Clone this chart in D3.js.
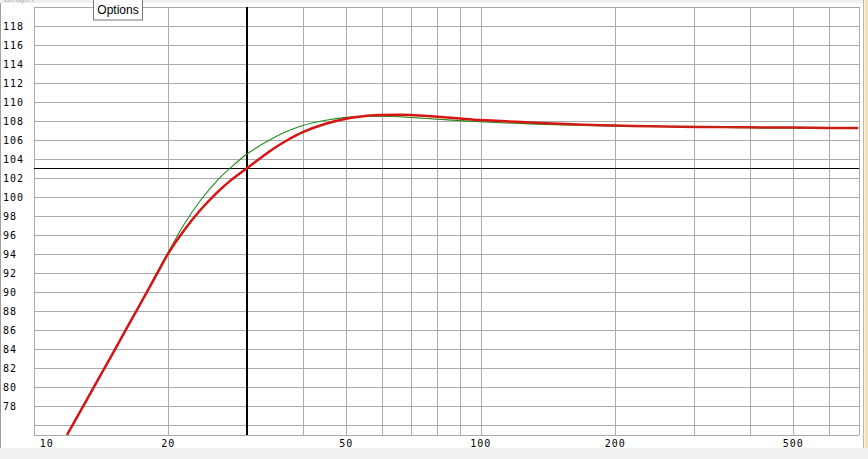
<!DOCTYPE html>
<html><head><meta charset="utf-8">
<script src="https://cdn.jsdelivr.net/npm/d3@7"></script>
<style>html,body{margin:0;padding:0;background:#f0f0f0;overflow:hidden}</style>
</head><body>
<svg id="c" width="868" height="459"></svg>
<script>
// ---- data ----
const freqs = [11.87, 12, 13, 14, 15, 16, 17, 18, 19, 20, 21.6, 23.55, 25.67, 27.5, 30, 33.8, 35.56, 37.4, 40, 45, 50, 56.5, 60, 66, 70, 80, 90, 100, 120, 140, 170, 200, 240, 280, 350, 400, 500, 600, 700];
const redSeries = [75.0, 75.4, 78.3, 81.0, 83.5, 85.9, 88.1, 90.2, 92.2, 94.1, 96.4, 98.6, 100.45, 101.72, 103.05, 104.86, 105.54, 106.15, 106.85, 107.72, 108.25, 108.58, 108.65, 108.68, 108.64, 108.45, 108.27, 108.12, 107.93, 107.78, 107.62, 107.53, 107.47, 107.42, 107.37, 107.35, 107.32, 107.29, 107.28];
const greenSeries = [75.0, 75.4, 78.3, 81.0, 83.5, 85.9, 88.1, 90.25, 92.35, 94.2, 97.0, 99.6, 101.7, 103.05, 104.55, 106.05, 106.6, 107.05, 107.55, 108.1, 108.4, 108.52, 108.52, 108.46, 108.38, 108.2, 108.05, 107.94, 107.77, 107.66, 107.56, 107.5, 107.45, 107.42, 107.35, 107.3, 107.28, 107.28, 107.28];
const xTickLabels = [10, 20, 50, 100, 200, 500];
const xGridValues = [20, 30, 40, 50, 60, 70, 80, 90, 100, 200, 300, 400, 500, 600, 700];
const yTickLabels = [78, 80, 82, 84, 86, 88, 90, 92, 94, 96, 98, 100, 102, 104, 106, 108, 110, 112, 114, 116, 118];
const yGridValues = [76, 78, 80, 82, 84, 86, 88, 90, 92, 94, 96, 98, 100, 102, 104, 106, 108, 110, 112, 114, 116, 118, 120];
const cursorFreq = 30;
const cursorLevel = 103.05;
const xDomain = [10, 700];
const yDomain = [75, 120];

// ---- drawing ----
const svg = d3.select("#c");
const L = 33.7, R = 858.5, T = 7, B = 435;
const x = d3.scaleLog().domain(xDomain).range([L, R]);
const y = d3.scaleLinear().domain(yDomain).range([B, T]);

// window frame
svg.append("rect").attr("x",0).attr("y",0).attr("width",868).attr("height",459).attr("fill","#f0f0f0");
svg.append("rect").attr("x",0).attr("y",3).attr("width",863).attr("height",445).attr("fill","#ffffff");
svg.append("line").attr("x1",0.5).attr("x2",0.5).attr("y1",3).attr("y2",448).attr("stroke","#a0a0a0");
svg.append("line").attr("x1",863.5).attr("x2",863.5).attr("y1",0).attr("y2",448).attr("stroke","#b8b8b8");
svg.append("rect").attr("x",865).attr("y",0).attr("width",3).attr("height",448).attr("fill","#efe3b0");
svg.append("text").attr("x",3).attr("y",2).attr("font-family","Liberation Sans, Arial, sans-serif")
  .attr("font-size",11).attr("fill","#b8b8b8").text("Graph");

svg.append("clipPath").attr("id","pc").append("rect")
  .attr("x",L).attr("y",T).attr("width",R-L).attr("height",B-T);

// grid
const grid = svg.append("g").attr("stroke","#ababab").attr("stroke-width",1).attr("shape-rendering","crispEdges");
grid.selectAll("line.h").data(yGridValues).join("line").attr("class","h")
  .attr("x1",L).attr("x2",R).attr("y1",d=>Math.round(y(d))+0.5).attr("y2",d=>Math.round(y(d))+0.5);
grid.selectAll("line.v").data(xGridValues).join("line").attr("class","v")
  .attr("y1",T).attr("y2",B).attr("x1",d=>Math.round(x(d))+0.5).attr("x2",d=>Math.round(x(d))+0.5);
grid.append("line").attr("x1",Math.round(L)+0.5).attr("x2",Math.round(L)+0.5).attr("y1",T).attr("y2",B+0.5);
grid.append("line").attr("x1",L).attr("x2",R).attr("y1",B+0.5).attr("y2",B+0.5);

// cursor lines
const cur = svg.append("g").attr("stroke","#000").attr("stroke-width",1.2).attr("shape-rendering","crispEdges");
cur.append("line").attr("x1",L).attr("x2",R).attr("y1",y(cursorLevel)).attr("y2",y(cursorLevel));
cur.append("line").attr("x1",x(cursorFreq)).attr("x2",x(cursorFreq)).attr("y1",T).attr("y2",B);

// curves
const line = d3.line().x((d,i)=>x(freqs[i])).y(d=>y(d)).curve(d3.curveCatmullRom.alpha(0.5));
const plot = svg.append("g").attr("clip-path","url(#pc)");
plot.append("path").datum(greenSeries).attr("d",line).attr("fill","none")
  .attr("stroke","#1f8a1f").attr("stroke-width",1.1);
plot.append("path").datum(redSeries).attr("d",line).attr("fill","none")
  .attr("stroke","#d71414").attr("stroke-width",2.5).attr("stroke-linejoin","round");
const lineTail = d3.line().defined(d=>d!==null).x((d,i)=>x(freqs[i])).y(d=>y(d)).curve(d3.curveCatmullRom.alpha(0.5));
plot.append("path").datum(greenSeries.map((v,i)=>i>=21?v:null)).attr("d",lineTail).attr("fill","none")
  .attr("stroke","#5a7a10").attr("stroke-width",0.8).attr("opacity",0.35);

// tick labels
const font = "DejaVu Sans Mono, monospace";
svg.append("g").selectAll("text").data(yTickLabels).join("text")
  .attr("x",3).attr("y",d=>y(d)).attr("dy","0.36em")
  .attr("font-family",font).attr("font-size",10).attr("letter-spacing",1).attr("fill","#000")
  .text(d=>d);
svg.append("g").selectAll("text").data(xTickLabels).join("text")
  .attr("x",(d,i)=> i===0 ? x(d)+6 : x(d)).attr("y",447)
  .attr("text-anchor",(d,i)=> i===0 ? "start" : "middle")
  .attr("font-family",font).attr("font-size",10).attr("letter-spacing",1).attr("fill","#000")
  .text(d=>d);

// Options button
const ob = svg.append("g");
ob.append("rect").attr("x",93.5).attr("y",-1).attr("width",49).attr("height",21)
  .attr("fill","#ffffff").attr("stroke","#767676");
ob.append("text").attr("x",118).attr("y",14).attr("text-anchor","middle")
  .attr("font-family","Liberation Sans, Arial, sans-serif").attr("font-size",12).attr("fill","#000").text("Options");
</script>
</body></html>
